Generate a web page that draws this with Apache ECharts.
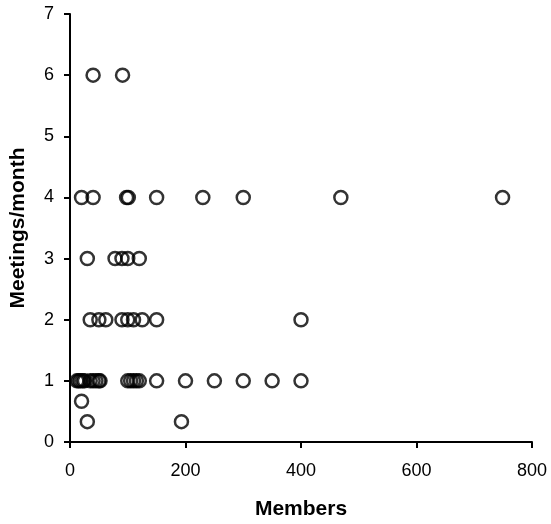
<!DOCTYPE html>
<html>
<head>
<meta charset="utf-8">
<script src="https://cdn.jsdelivr.net/npm/echarts@6/dist/echarts.min.js"></script>
<style>html,body{margin:0;padding:0;background:#fff;}#c{width:551px;height:524px;}</style>
</head>
<body>
<div id="c"></div>
<script>
// Members per group
var members = [
  40, 91,
  20, 40, 98, 101, 150, 230, 300, 469, 749,
  30, 78, 90, 100, 120,
  35, 50, 62, 90, 100, 110, 125, 150, 400,
  12, 15, 18, 22, 25, 35, 40, 45, 50, 52, 100, 105, 110, 115, 120, 150, 200, 250, 300, 350, 400,
  20,
  30, 193
];
// Meetings per month
var meetings = [
  6, 6,
  4, 4, 4, 4, 4, 4, 4, 4, 4,
  3, 3, 3, 3, 3,
  2, 2, 2, 2, 2, 2, 2, 2, 2,
  1, 1, 1, 1, 1, 1, 1, 1, 1, 1, 1, 1, 1, 1, 1, 1, 1, 1, 1, 1, 1,
  0.667,
  0.333, 0.333
];
var points = members.map(function (m, i) { return [m, meetings[i]]; });

var font = 'Liberation Sans, Arial, sans-serif';
var chart = echarts.init(document.getElementById('c'));
chart.setOption({
  animation: false,
  backgroundColor: '#fff',
  grid: { left: 70, right: 19, top: 14, bottom: 82, containLabel: false, outerBoundsMode: 'none' },
  xAxis: {
    type: 'value', min: 0, max: 800, interval: 200,
    name: 'Members', nameLocation: 'middle', nameGap: 57,
    nameTextStyle: { fontFamily: font, fontSize: 21, fontWeight: 'bold', color: '#000' },
    axisLine: { show: true, lineStyle: { color: '#000', width: 2 } },
    axisTick: { show: true, inside: false, length: 6, lineStyle: { color: '#000', width: 2 } },
    axisLabel: { fontFamily: font, fontSize: 18, color: '#000', margin: 20 },
    splitLine: { show: false }
  },
  yAxis: {
    type: 'value', min: 0, max: 7, interval: 1,
    name: 'Meetings/month', nameLocation: 'middle', nameGap: 41,
    nameTextStyle: { fontFamily: font, fontSize: 21, fontWeight: 'bold', color: '#000' },
    axisLine: { show: true, lineStyle: { color: '#000', width: 2 } },
    axisTick: { show: true, inside: false, length: 6, lineStyle: { color: '#000', width: 2 } },
    axisLabel: { fontFamily: font, fontSize: 18, color: '#000', margin: 16 },
    splitLine: { show: false }
  },
  series: [{
    type: 'scatter',
    data: points,
    symbol: 'circle',
    symbolSize: 13,
    itemStyle: { color: 'rgba(0,0,0,0)', borderColor: '#000', borderWidth: 2.5 }
  }]
});
</script>
</body>
</html>
